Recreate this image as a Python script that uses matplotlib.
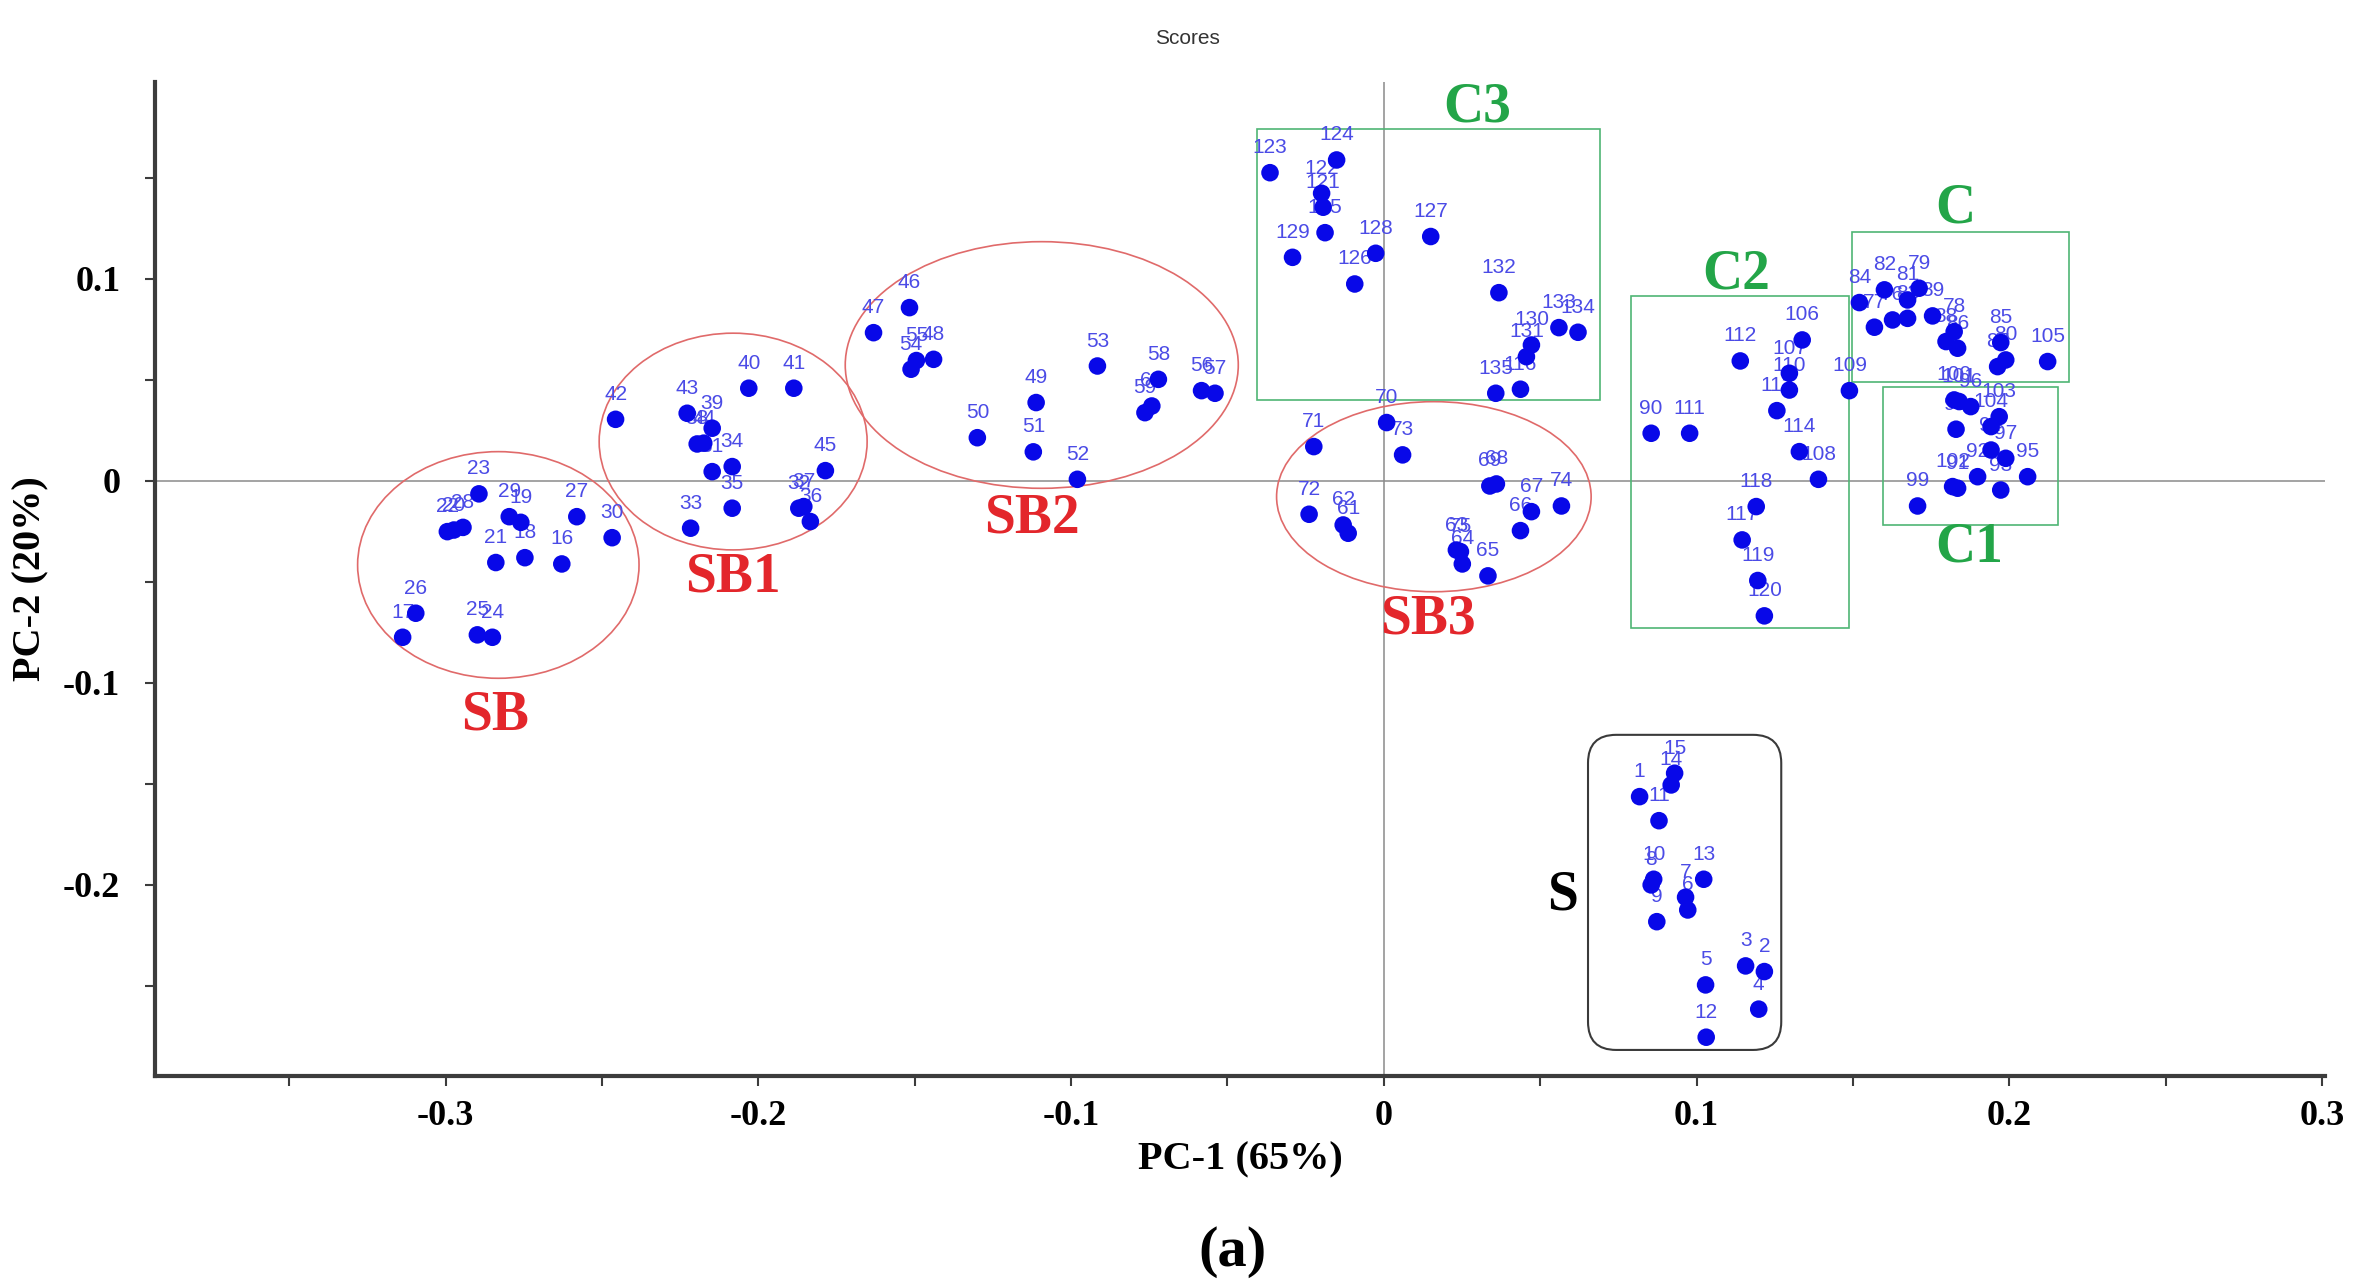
import matplotlib.pyplot as plt
from matplotlib.patches import Ellipse, Rectangle, FancyBboxPatch
from matplotlib.ticker import MultipleLocator

# sample numbers with their scores (PC-1, PC-2), read group by group
ids = [
    # SB
    23, 22, 20, 28, 29, 19, 21, 18, 16, 27, 30, 26, 17, 25, 24,
    # SB1
    42, 43, 39, 38, 44, 31, 34, 35, 33, 40, 41, 45, 32, 37, 36,
    # SB2
    47, 46, 54, 55, 48, 53, 49, 50, 51, 52, 58, 60, 59, 56, 57,
    # SB3
    70, 73, 71, 72, 62, 61, 69, 68, 67, 66, 74, 63, 75, 64, 65,
    # C3
    123, 124, 122, 121, 125, 129, 128, 126, 127, 132, 133, 134, 130, 131, 116, 135,
    # C2
    106, 112, 107, 110, 113, 109, 90, 111, 114, 108, 118, 117, 119, 120,
    # C
    84, 82, 79, 81, 77, 76, 83, 89, 78, 88, 86, 85, 80, 87, 105,
    # C1
    100, 101, 96, 103, 104, 98, 94, 97, 92, 95, 102, 91, 93, 99,
    # S
    15, 14, 1, 11, 10, 8, 9, 13, 7, 6, 3, 2, 4, 5, 12,
]
pc1 = [
    -0.2894, -0.2995, -0.2974, -0.2945, -0.2797, -0.2760, -0.2840, -0.2747, -0.2629, -0.2581, -0.2468, -0.3096, -0.3138, -0.2899, -0.2851,
    -0.2457, -0.2228, -0.2148, -0.2196, -0.2175, -0.2148, -0.2084, -0.2084, -0.2217, -0.2031, -0.1887, -0.1786, -0.1871, -0.1855, -0.1834,
    -0.1632, -0.1517, -0.1512, -0.1495, -0.1440, -0.0916, -0.1112, -0.1300, -0.1121, -0.0980, -0.0721, -0.0742, -0.0764, -0.0583, -0.0540,
    0.0009, 0.0060, -0.0224, -0.0239, -0.0130, -0.0114, 0.0339, 0.0360, 0.0472, 0.0437, 0.0568, 0.0232, 0.0245, 0.0251, 0.0333,
    -0.0364, -0.0151, -0.0199, -0.0194, -0.0188, -0.0292, -0.0026, -0.0093, 0.0150, 0.0368, 0.0560, 0.0621, 0.0472, 0.0456, 0.0437, 0.0358,
    0.1338, 0.1140, 0.1297, 0.1297, 0.1257, 0.1489, 0.0855, 0.0978, 0.1329, 0.1390, 0.1191, 0.1146, 0.1196, 0.1217,
    0.1521, 0.1601, 0.1712, 0.1675, 0.1569, 0.1627, 0.1675, 0.1755, 0.1824, 0.1798, 0.1835, 0.1973, 0.1989, 0.1963, 0.2123,
    0.1824, 0.1840, 0.1877, 0.1968, 0.1942, 0.1830, 0.1942, 0.1989, 0.1899, 0.2059, 0.1819, 0.1835, 0.1973, 0.1707,
    0.0930, 0.0919, 0.0818, 0.0880, 0.0863, 0.0855, 0.0873, 0.1023, 0.0965, 0.0972, 0.1157, 0.1217, 0.1199, 0.1029, 0.1031,
]
pc2 = [
    -0.0064, -0.0251, -0.0243, -0.0230, -0.0177, -0.0205, -0.0404, -0.0380, -0.0411, -0.0177, -0.0281, -0.0655, -0.0774, -0.0762, -0.0774,
    0.0305, 0.0335, 0.0261, 0.0183, 0.0187, 0.0046, 0.0071, -0.0135, -0.0234, 0.0459, 0.0459, 0.0051, -0.0135, -0.0127, -0.0201,
    0.0734, 0.0858, 0.0553, 0.0596, 0.0602, 0.0569, 0.0388, 0.0214, 0.0144, 0.0008, 0.0503, 0.0371, 0.0338, 0.0447, 0.0434,
    0.0289, 0.0129, 0.0170, -0.0165, -0.0218, -0.0259, -0.0025, -0.0015, -0.0152, -0.0246, -0.0124, -0.0342, -0.0350, -0.0411, -0.0470,
    0.1526, 0.1589, 0.1424, 0.1355, 0.1229, 0.1107, 0.1127, 0.0975, 0.1210, 0.0932, 0.0759, 0.0736, 0.0673, 0.0615, 0.0454, 0.0434,
    0.0698, 0.0594, 0.0533, 0.0450, 0.0348, 0.0447, 0.0236, 0.0236, 0.0145, 0.0008, -0.0127, -0.0292, -0.0493, -0.0668,
    0.0883, 0.0946, 0.0954, 0.0896, 0.0761, 0.0797, 0.0805, 0.0817, 0.0739, 0.0690, 0.0657, 0.0685, 0.0599, 0.0566, 0.0591,
    0.0401, 0.0393, 0.0368, 0.0318, 0.0269, 0.0256, 0.0153, 0.0112, 0.0021, 0.0021, -0.0028, -0.0036, -0.0045, -0.0124,
    -0.1447, -0.1505, -0.1563, -0.1682, -0.1972, -0.2000, -0.2182, -0.1972, -0.2061, -0.2124, -0.2401, -0.2429, -0.2615, -0.2495, -0.2754,
]

# ellipses around the SB groups: (name, centre x, centre y, width, height, label x, label y)
ellipses = [
    ('SB', -0.2832, -0.0416, 0.0900, 0.1122, -0.2843, -0.1161),
    ('SB1', -0.2081, 0.0195, 0.0857, 0.1073, -0.2083, -0.0478),
    ('SB2', -0.1094, 0.0574, 0.1257, 0.1221, -0.1125, -0.0188),
    ('SB3', 0.0160, -0.0078, 0.1006, 0.0941, 0.0141, -0.0686),
]
# boxes around the C groups: (name, x0, y0, x1, y1, label x, label y)
boxes = [
    ('C3', -0.0407, 0.0401, 0.0692, 0.1741, 0.0299, 0.1847),
    ('C2', 0.0791, -0.0729, 0.1489, 0.0916, 0.1128, 0.1022),
    ('C', 0.1497, 0.0492, 0.2190, 0.1234, 0.1827, 0.1349),
    ('C1', 0.1595, -0.0218, 0.2157, 0.0467, 0.1871, -0.0329),
]
s_box = ('S', 0.0653, -0.2817, 0.1271, -0.1257, 0.0572, -0.2052)

serif = 'Liberation Serif'
sans = 'Liberation Sans'
red = '#e3262b'
green = '#23a548'

fig = plt.figure(figsize=(23.53, 12.85), dpi=100)
ax = fig.add_axes([155/2353, 1 - 1076/1285, (2325 - 155)/2353, (1076 - 82)/1285])

ax.axhline(0, color='#8a8a8a', lw=1.1, zorder=1)
ax.axvline(0, color='#8a8a8a', lw=1.1, zorder=1)

for name, cx, cy, w, h, tx, ty in ellipses:
    ax.add_patch(Ellipse((cx, cy), w, h, fill=False, ec='#e06a6a', lw=1.2, zorder=2))
    ax.text(tx, ty, name, color=red, fontsize=40, fontweight='bold', family=serif,
            ha='center', va='center', zorder=5)

for name, x0, y0, x1, y1, tx, ty in boxes:
    ax.add_patch(Rectangle((x0, y0), x1 - x0, y1 - y0, fill=False, ec='#4fb574', lw=1.2, zorder=2))
    ax.text(tx, ty, name, color=green, fontsize=40, fontweight='bold', family=serif,
            ha='center', va='center', zorder=5)

name, x0, y0, x1, y1, tx, ty = s_box
ax.add_patch(FancyBboxPatch((x0, y0), x1 - x0, y1 - y0,
                            boxstyle='round,pad=0,rounding_size=0.009',
                            mutation_aspect=1.55, fill=False, ec='#3a3a3a', lw=1.5, zorder=2))
ax.text(tx, ty, name, color='black', fontsize=40, fontweight='bold', family=serif,
        ha='center', va='center', zorder=5)

# number labels first, so the dots sit on top of them like in the original
for i, x, y in zip(ids, pc1, pc2):
    ax.annotate(str(i), (x, y), xytext=(0, 18), textcoords='offset points',
                ha='center', va='center', fontsize=15, family=sans,
                color='#4b4be6', zorder=3)
ax.scatter(pc1, pc2, s=160, color='#0808e8', edgecolors='none', zorder=4)

ax.set_xlim(-0.393, 0.301)
ax.set_ylim(-0.2946, 0.1975)
ax.xaxis.set_minor_locator(MultipleLocator(0.05))
ax.yaxis.set_minor_locator(MultipleLocator(0.05))
ax.set_xticks([-0.3, -0.2, -0.1, 0, 0.1, 0.2, 0.3])
ax.set_xticklabels(['-0.3', '-0.2', '-0.1', '0', '0.1', '0.2', '0.3'])
ax.set_yticks([-0.2, -0.1, 0, 0.1])
ax.set_yticklabels(['-0.2', '-0.1', '0', '0.1'])

for side in ['top', 'right']:
    ax.spines[side].set_visible(False)
for side in ['left', 'bottom']:
    ax.spines[side].set_linewidth(3)
    ax.spines[side].set_color('#3c3c3c')

ax.tick_params(which='both', direction='out', length=7, width=1.5, color='#3c3c3c')
ax.tick_params(axis='x', pad=10)
ax.tick_params(axis='y', pad=18)
for lab in ax.get_xticklabels() + ax.get_yticklabels():
    lab.set_fontfamily(serif)
    lab.set_fontweight('bold')
    lab.set_fontsize(26)

ax.set_xlabel('PC-1 (65%)', fontsize=29, fontweight='bold', family=serif, labelpad=6)
ax.set_ylabel('PC-2 (20%)', fontsize=29, fontweight='bold', family=serif, labelpad=10)

fig.text(1187/2353, 1 - 39/1285, 'Scores', fontsize=15, family=sans, color='#333333',
         ha='center', va='center')
fig.text(1233/2353, 1 - 1252/1285, '(a)', fontsize=42, fontweight='bold', family=serif,
         ha='center', va='center')

fig.savefig('out.png', dpi=100)
